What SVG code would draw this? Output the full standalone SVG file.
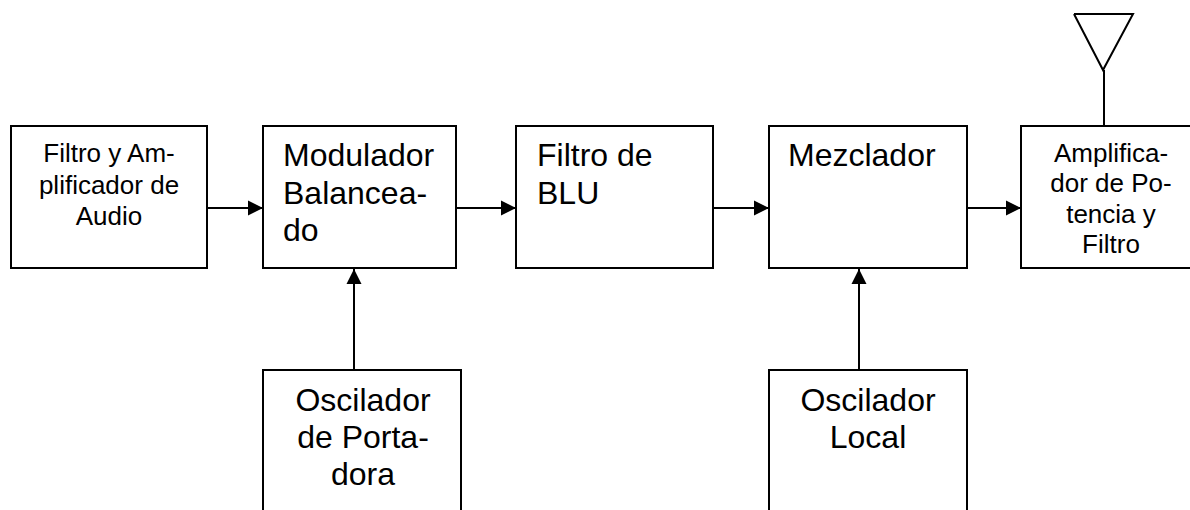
<svg xmlns="http://www.w3.org/2000/svg" width="1190" height="510" viewBox="0 0 1190 510">
<style>
rect.b{fill:#fff;stroke:#000;stroke-width:2}
.c line,.c polyline{stroke:#000;stroke-width:2;fill:none}
text{font-family:"Liberation Sans",Arial,sans-serif;fill:#000}
.s{font-size:26px}.l{font-size:32px}
.mid{text-anchor:middle}
</style>
<defs><marker id="a" markerUnits="userSpaceOnUse" markerWidth="16" markerHeight="16" refX="15" refY="8" orient="auto"><path d="M0 .5L15 8L0 15.5Z" fill="#000"/></marker></defs>
<rect width="1190" height="510" fill="#fff"/>
<g class="c" id="connectors">
<line x1="207" y1="208" x2="263" y2="208" marker-end="url(#a)"/>
<line x1="456" y1="208" x2="516" y2="208" marker-end="url(#a)"/>
<line x1="713" y1="208" x2="769" y2="208" marker-end="url(#a)"/>
<line x1="967" y1="208" x2="1021" y2="208" marker-end="url(#a)"/>
<line x1="354" y1="370" x2="354" y2="269" marker-end="url(#a)"/>
<line x1="859" y1="370" x2="859" y2="269" marker-end="url(#a)"/>
<line x1="1104" y1="70" x2="1104" y2="126"/>
<polyline points="1074,14 1133,14 1103,70 1074,14"/>
</g>
<g id="n1"><rect class="b" x="11" y="126" width="196" height="142"/><text class="s mid" x="109" y="162">Filtro y Am-</text><text class="s mid" x="109" y="194">plificador de</text><text class="s mid" x="109" y="225">Audio</text></g>
<g id="n2"><rect class="b" x="263" y="126" width="193" height="142"/><text class="l" x="283" y="166">Modulador</text><text class="l" x="283" y="204">Balancea-</text><text class="l" x="283" y="241">do</text></g>
<g id="n3"><rect class="b" x="516" y="126" width="197" height="142"/><text class="l" x="537" y="166">Filtro de</text><text class="l" x="537" y="204">BLU</text></g>
<g id="n4"><rect class="b" x="769" y="126" width="198" height="142"/><text class="l" x="788" y="166">Mezclador</text></g>
<g id="n5"><rect class="b" x="1021" y="126" width="180" height="142"/><text class="s mid" x="1111" y="162">Amplifica-</text><text class="s mid" x="1111" y="192">dor de Po-</text><text class="s mid" x="1111" y="223">tencia y</text><text class="s mid" x="1111" y="253">Filtro</text></g>
<g id="n6"><rect class="b" x="263" y="370" width="198" height="160"/><text class="l mid" x="363" y="411">Oscilador</text><text class="l mid" x="363" y="448">de Porta-</text><text class="l mid" x="363" y="485">dora</text></g>
<g id="n7"><rect class="b" x="769" y="370" width="198" height="160"/><text class="l mid" x="868" y="411">Oscilador</text><text class="l mid" x="868" y="448">Local</text></g>
</svg>
